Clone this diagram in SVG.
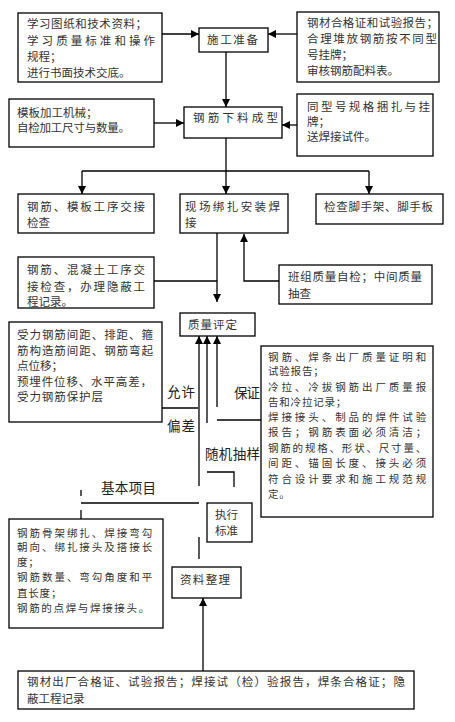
<svg xmlns="http://www.w3.org/2000/svg" width="455" height="722" viewBox="0 0 455 722">
<style>
.b{fill:#fff;stroke:#000;stroke-width:1.3}
.l{fill:none;stroke:#000;stroke-width:1.3}
.t{font-family:"Noto Sans CJK SC","Liberation Sans",sans-serif;font-size:11.5px;fill:#333}
.s{font-size:10.5px;letter-spacing:0.8px}
.m{font-family:"Noto Sans CJK SC","Liberation Sans",sans-serif;font-size:13.5px;fill:#222}
</style>
<defs>
<marker id="a" markerUnits="userSpaceOnUse" markerWidth="8" markerHeight="8" refX="8" refY="4" orient="auto">
<path d="M0,0 L8,4 L0,8 z" fill="#000"/>
</marker>
</defs>
<rect width="455" height="722" fill="#fff"/>
<g id="connectors">
<line class="l" x1="162" y1="34" x2="199" y2="34" marker-end="url(#a)"/>
<line class="l" x1="297" y1="34" x2="268" y2="34" marker-end="url(#a)"/>
<line class="l" x1="226" y1="52" x2="226" y2="107" marker-end="url(#a)"/>
<line class="l" x1="154" y1="123" x2="184" y2="123" marker-end="url(#a)"/>
<line class="l" x1="297" y1="125" x2="282" y2="125" marker-end="url(#a)"/>
<line class="l" x1="226" y1="138" x2="226" y2="171"/>
<line class="l" x1="82" y1="171" x2="369" y2="171"/>
<line class="l" x1="82" y1="171" x2="82" y2="194" marker-end="url(#a)"/>
<line class="l" x1="226" y1="171" x2="226" y2="194" marker-end="url(#a)"/>
<line class="l" x1="369" y1="171" x2="369" y2="194" marker-end="url(#a)"/>
<line class="l" x1="217" y1="233" x2="217" y2="302" marker-end="url(#a)"/>
<line class="l" x1="154" y1="281" x2="217" y2="281"/>
<polyline class="l" points="279,281 244,281 244,234" marker-end="url(#a)"/>
<line class="l" x1="199" y1="486" x2="199" y2="336" marker-end="url(#a)"/>
<line class="l" x1="207" y1="423" x2="207" y2="336" marker-end="url(#a)"/>
<line class="l" x1="217" y1="407" x2="217" y2="336" marker-end="url(#a)"/>
<line class="l" x1="162" y1="408" x2="198" y2="408"/>
<line class="l" x1="217" y1="420" x2="261" y2="420"/>
<polyline class="l" points="207,472 234,472 234,487"/>
<line class="l" x1="81" y1="503" x2="199" y2="503"/>
<line class="l" x1="81" y1="490" x2="81" y2="496"/>
<line class="l" x1="81" y1="510" x2="81" y2="519"/>
<line class="l" x1="199" y1="537" x2="199" y2="559"/>
<line class="l" x1="203" y1="671" x2="203" y2="598" marker-end="url(#a)"/>
</g>
<g id="n1">
<rect class="b" x="18" y="13" width="144" height="69"/>
<text class="t" x="27" y="28" textLength="120">学习图纸和技术资料；</text>
<text class="t" x="27" y="45" textLength="128">学习质量标准和操作</text>
<text class="t" x="27" y="61">规程；</text>
<text class="t" x="27" y="77">进行书面技术交底。</text>
</g>
<g id="n2">
<rect class="b" x="199" y="28" width="69" height="24"/>
<text class="t" x="207" y="44" textLength="51">施工准备</text>
</g>
<g id="n3">
<rect class="b" x="297" y="12" width="142" height="70"/>
<text class="t" x="307" y="27" textLength="131">钢材合格证和试验报告；</text>
<text class="t" x="307" y="43" textLength="130">合理堆放钢筋按不同型</text>
<text class="t" x="307" y="59">号挂牌；</text>
<text class="t" x="307" y="75">审核钢筋配料表。</text>
</g>
<g id="n4">
<rect class="b" x="9" y="99" width="145" height="48"/>
<text class="t" x="17" y="117">模板加工机械；</text>
<text class="t" x="17" y="132" textLength="113">自检加工尺寸与数量。</text>
</g>
<g id="n5">
<rect class="b" x="184" y="107" width="98" height="31"/>
<text class="t" x="193" y="122" textLength="85">钢筋下料成型</text>
</g>
<g id="n6">
<rect class="b" x="297" y="94" width="136" height="62"/>
<text class="t" x="307" y="111" textLength="123">同型号规格捆扎与挂</text>
<text class="t" x="307" y="126">牌；</text>
<text class="t" x="307" y="141">送焊接试件。</text>
</g>
<g id="n7">
<rect class="b" x="18" y="194" width="136" height="39"/>
<text class="t" x="27" y="211" textLength="118">钢筋、模板工序交接</text>
<text class="t" x="27" y="227">检查</text>
</g>
<g id="n8">
<rect class="b" x="180" y="194" width="108" height="39"/>
<text class="t" x="185" y="211" textLength="95">现场绑扎安装焊</text>
<text class="t" x="185" y="227">接</text>
</g>
<g id="n9">
<rect class="b" x="316" y="194" width="127" height="30"/>
<text class="t" x="324" y="211" textLength="109">检查脚手架、脚手板</text>
</g>
<g id="n10">
<rect class="b" x="18" y="257" width="136" height="51"/>
<text class="t" x="27" y="274" textLength="118">钢筋、混凝土工序交</text>
<text class="t" x="27" y="291" textLength="118">接检查，办理隐蔽工</text>
<text class="t" x="27" y="306">程记录。</text>
</g>
<g id="n11">
<rect class="b" x="279" y="265" width="153" height="39"/>
<text class="t" x="288" y="281" textLength="134">班组质量自检；中间质量</text>
<text class="t" x="288" y="298">抽查</text>
</g>
<g id="n12">
<rect class="b" x="180" y="313" width="75" height="23"/>
<text class="t" x="188" y="329" textLength="49">质量评定</text>
</g>
<g id="n13">
<rect class="b" x="9" y="322" width="153" height="100"/>
<text class="t" x="17" y="339" textLength="136">受力钢筋间距、排距、箍</text>
<text class="t" x="17" y="355" textLength="136">筋构造筋间距、钢筋弯起</text>
<text class="t" x="17" y="370">点位移；</text>
<text class="t" x="17" y="386" textLength="135">预埋件位移、水平高差，</text>
<text class="t" x="17" y="401" textLength="86">受力钢筋保护层</text>
</g>
<g id="n14">
<rect class="b" x="261" y="346" width="172" height="171"/>
<text class="t s" x="268" y="361" textLength="159">钢筋、焊条出厂质量证明和</text>
<text class="t s" x="268" y="375">试验报告；</text>
<text class="t s" x="268" y="391" textLength="159">冷拉、冷拔钢筋出厂质量报</text>
<text class="t s" x="268" y="406">告和冷拉记录；</text>
<text class="t s" x="268" y="421" textLength="159">焊接接头、制品的焊件试验</text>
<text class="t s" x="268" y="436" textLength="159">报告；钢筋表面必须清洁；</text>
<text class="t s" x="268" y="452" textLength="159">钢筋的规格、形状、尺寸量、</text>
<text class="t s" x="268" y="467" textLength="159">间距、锚固长度、接头必须</text>
<text class="t s" x="268" y="483" textLength="159">符合设计要求和施工规范规</text>
<text class="t s" x="268" y="498">定。</text>
</g>
<g id="labels">
<text class="m" x="167" y="397" textLength="28">允许</text>
<text class="m" x="167" y="431" textLength="28">偏差</text>
<text class="m" x="234" y="398" textLength="26">保证</text>
<text class="m" x="205" y="459" textLength="55">随机抽样</text>
<text class="m" x="101" y="493" textLength="55">基本项目</text>
</g>
<g id="n15">
<rect class="b" x="207" y="503" width="45" height="39"/>
<text class="t" x="215" y="519" textLength="23">执行</text>
<text class="t" x="215" y="535" textLength="23">标准</text>
</g>
<g id="n16">
<rect class="b" x="9" y="519" width="154" height="109"/>
<text class="t s" x="17" y="537" textLength="136">钢筋骨架绑扎、焊接弯勾</text>
<text class="t s" x="17" y="551" textLength="136">朝向、绑扎接头及搭接长</text>
<text class="t s" x="17" y="566">度；</text>
<text class="t s" x="17" y="581" textLength="136">钢筋数量、弯勾角度和平</text>
<text class="t s" x="17" y="597">直长度；</text>
<text class="t s" x="17" y="612" textLength="133">钢筋的点焊与焊接接头。</text>
</g>
<g id="n17">
<rect class="b" x="172" y="567" width="69" height="31"/>
<text class="t" x="180" y="584" textLength="50">资料整理</text>
</g>
<g id="n18">
<rect class="b" x="18" y="671" width="396" height="38"/>
<text class="t" x="27" y="686" textLength="378">钢材出厂合格证、试验报告；焊接试（检）验报告，焊条合格证；隐</text>
<text class="t" x="27" y="703">蔽工程记录</text>
</g>
</svg>
